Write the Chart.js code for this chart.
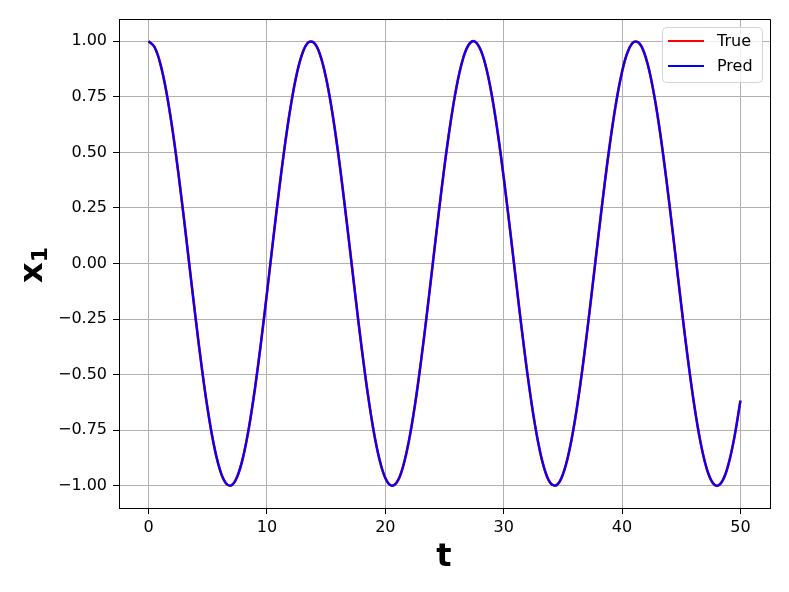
<!DOCTYPE html>
<html lang="en">
<head>
    <meta charset="UTF-8">
    <title>x1 vs t</title>
    <script src="https://cdn.jsdelivr.net/npm/chart.js"></script>
    <style>
        html, body { margin: 0; padding: 0; background: #fff; }
        #wrap { width: 789px; height: 592px; }
    </style>
</head>
<body>
    <div id="wrap"><canvas id="chart" width="789" height="592"></canvas></div>
    <script>
        // time samples
        const tValues = [
            0, 0.5, 1, 1.5, 2, 2.5, 3, 3.5, 4, 4.5,
            5, 5.5, 6, 6.5, 7, 7.5, 8, 8.5, 9, 9.5,
            10, 10.5, 11, 11.5, 12, 12.5, 13, 13.5, 14, 14.5,
            15, 15.5, 16, 16.5, 17, 17.5, 18, 18.5, 19, 19.5,
            20, 20.5, 21, 21.5, 22, 22.5, 23, 23.5, 24, 24.5,
            25, 25.5, 26, 26.5, 27, 27.5, 28, 28.5, 29, 29.5,
            30, 30.5, 31, 31.5, 32, 32.5, 33, 33.5, 34, 34.5,
            35, 35.5, 36, 36.5, 37, 37.5, 38, 38.5, 39, 39.5,
            40, 40.5, 41, 41.5, 42, 42.5, 43, 43.5, 44, 44.5,
            45, 45.5, 46, 46.5, 47, 47.5, 48, 48.5, 49, 49.5,
            50
        ];
        const x1True = [
            1.000, 0.974, 0.897, 0.773, 0.609, 0.413, 0.196, -0.032, -0.258, -0.471,
            -0.659, -0.812, -0.923, -0.986, -0.998, -0.957, -0.867, -0.731, -0.557, -0.354,
            -0.133, 0.096, 0.319, 0.526, 0.705, 0.848, 0.946, 0.995, 0.992, 0.937,
            0.833, 0.686, 0.503, 0.293, 0.069, -0.159, -0.379, -0.579, -0.749, -0.880,
            -0.965, -0.999, -0.982, -0.913, -0.796, -0.638, -0.446, -0.232, -0.005, 0.222,
            0.438, 0.630, 0.790, 0.909, 0.980, 1.000, 0.967, 0.885, 0.756, 0.587,
            0.388, 0.169, -0.059, -0.284, -0.494, -0.679, -0.828, -0.934, -0.991, -0.996,
            -0.949, -0.853, -0.712, -0.534, -0.328, -0.105, 0.123, 0.345, 0.549, 0.724,
            0.862, 0.955, 0.997, 0.988, 0.927, 0.818, 0.666, 0.479, 0.267, 0.042,
            -0.186, -0.404, -0.601, -0.767, -0.893, -0.972, -1.000, -0.976, -0.901, -0.779,
            -0.617
        ];
        const x1Pred = [
            1.000, 0.974, 0.897, 0.773, 0.609, 0.413, 0.196, -0.032, -0.258, -0.471,
            -0.659, -0.812, -0.923, -0.986, -0.998, -0.957, -0.867, -0.731, -0.557, -0.354,
            -0.133, 0.096, 0.319, 0.526, 0.705, 0.848, 0.946, 0.995, 0.992, 0.937,
            0.833, 0.686, 0.503, 0.293, 0.069, -0.159, -0.379, -0.579, -0.749, -0.880,
            -0.965, -0.999, -0.982, -0.913, -0.796, -0.638, -0.446, -0.232, -0.005, 0.222,
            0.438, 0.630, 0.790, 0.909, 0.980, 1.000, 0.967, 0.885, 0.756, 0.587,
            0.388, 0.169, -0.059, -0.284, -0.494, -0.679, -0.828, -0.934, -0.991, -0.996,
            -0.949, -0.853, -0.712, -0.534, -0.328, -0.105, 0.123, 0.345, 0.549, 0.724,
            0.862, 0.955, 0.997, 0.988, 0.927, 0.818, 0.666, 0.479, 0.267, 0.042,
            -0.186, -0.404, -0.601, -0.767, -0.893, -0.972, -1.000, -0.976, -0.901, -0.779,
            -0.617
        ];
        const xTicks = [0, 10, 20, 30, 40, 50];
        const yTicks = [-1, -0.75, -0.5, -0.25, 0, 0.25, 0.5, 0.75, 1];
        const seriesNames = ['True', 'Pred'];
        const seriesColors = ['#ff0000', '#0000ff'];

        const FONT = "'DejaVu Sans', sans-serif";

        function toPoints(ys) {
            return tValues.map((t, i) => ({ x: t, y: ys[i] }));
        }

        // frame, axis titles and the in-plot legend
        const extras = {
            id: 'extras',
            afterDraw(chart) {
                const ctx = chart.ctx;
                const a = chart.chartArea;
                ctx.save();
                ctx.strokeStyle = '#000';
                ctx.lineWidth = 1;
                ctx.beginPath();
                ctx.moveTo(a.left, a.top + 0.5);
                ctx.lineTo(a.right + 0.5, a.top + 0.5);
                ctx.lineTo(a.right + 0.5, a.bottom);
                ctx.stroke();

                // x title
                ctx.fillStyle = '#000';
                ctx.font = 'bold 32px ' + FONT;
                ctx.textAlign = 'center';
                ctx.textBaseline = 'alphabetic';
                ctx.fillText('t', 444, 566);

                // y title, x with subscript 1
                ctx.save();
                ctx.translate(42, 265);
                ctx.rotate(-Math.PI / 2);
                ctx.textAlign = 'left';
                ctx.font = 'bold 32px ' + FONT;
                const wx = ctx.measureText('x').width;
                ctx.font = 'bold 22px ' + FONT;
                const w1 = ctx.measureText('1').width;
                const start = -(wx + w1) / 2;
                ctx.font = 'bold 32px ' + FONT;
                ctx.fillText('x', start, 0);
                ctx.font = 'bold 22px ' + FONT;
                ctx.fillText('1', start + wx, 5);
                ctx.restore();

                // legend
                const lx = 662, ly = 27, lw = 100, lh = 55;
                ctx.fillStyle = 'rgba(255,255,255,0.8)';
                ctx.strokeStyle = '#d4d4d4';
                ctx.beginPath();
                ctx.roundRect(lx + 0.5, ly + 0.5, lw, lh, 4);
                ctx.fill();
                ctx.stroke();
                ctx.font = '16px ' + FONT;
                ctx.textAlign = 'left';
                ctx.textBaseline = 'middle';
                seriesNames.forEach((name, i) => {
                    const y = 41 + i * 25;
                    ctx.strokeStyle = seriesColors[i];
                    ctx.lineWidth = 2.2;
                    ctx.beginPath();
                    ctx.moveTo(668, y);
                    ctx.lineTo(704, y);
                    ctx.stroke();
                    ctx.fillStyle = '#000';
                    ctx.fillText(name, 717, y + 1);
                });
                ctx.restore();
            }
        };

        new Chart(document.getElementById('chart'), {
            type: 'line',
            data: {
                datasets: [
                    {
                        label: seriesNames[0],
                        data: toPoints(x1True),
                        borderColor: seriesColors[0],
                        borderWidth: 2.6,
                        pointRadius: 0,
                        tension: 0.4,
                        order: 2,
                        fill: false
                    },
                    {
                        label: seriesNames[1],
                        data: toPoints(x1Pred),
                        borderColor: seriesColors[1],
                        borderWidth: 2.2,
                        pointRadius: 0,
                        tension: 0.4,
                        order: 1,
                        fill: false
                    }
                ]
            },
            options: {
                responsive: false,
                animation: false,
                devicePixelRatio: 1,
                layout: { padding: { top: 19, right: 19, left: 0, bottom: 0 } },
                plugins: {
                    legend: { display: false },
                    tooltip: { enabled: false }
                },
                scales: {
                    x: {
                        type: 'linear',
                        min: -2.5,
                        max: 52.5,
                        afterBuildTicks: s => { s.ticks = xTicks.map(v => ({ value: v })); },
                        afterFit: s => { s.height = 84; },
                        grid: { color: '#b0b0b0', lineWidth: 1, tickLength: 6, tickColor: '#000' },
                        border: { color: '#000', width: 1 },
                        ticks: {
                            color: '#000',
                            font: { family: FONT, size: 16 },
                            padding: 4,
                            maxRotation: 0,
                            callback: v => String(v)
                        }
                    },
                    y: {
                        min: -1.1,
                        max: 1.1,
                        afterBuildTicks: s => { s.ticks = yTicks.map(v => ({ value: v })); },
                        afterFit: s => { s.width = 119; },
                        grid: { color: '#b0b0b0', lineWidth: 1, tickLength: 6, tickColor: '#000' },
                        border: { color: '#000', width: 1 },
                        ticks: {
                            color: '#000',
                            font: { family: FONT, size: 16 },
                            padding: 6,
                            callback: v => v.toFixed(2).replace('-', '\u2212')
                        }
                    }
                }
            },
            plugins: [extras]
        });
    </script>
</body>
</html>
